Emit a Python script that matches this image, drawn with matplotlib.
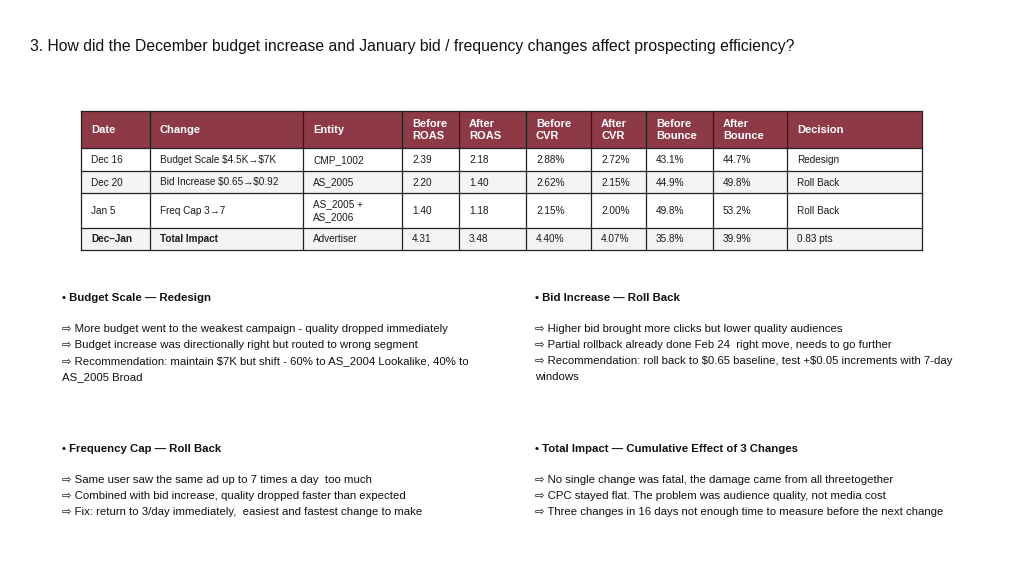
import matplotlib as mpl

mpl.use("Agg")

import matplotlib.pyplot as plt
from matplotlib.patches import Rectangle

plt.rcParams["font.family"] = ["Liberation Sans", "DejaVu Sans"]

TITLE = ("3. How did the December budget increase and January bid / frequency "
         "changes affect prospecting efficiency?")

HEADERS = ["Date", "Change", "Entity", "Before\nROAS", "After\nROAS", "Before\nCVR",
           "After\nCVR", "Before\nBounce", "After\nBounce", "Decision"]
DATES = ["Dec 16", "Dec 20", "Jan 5", "Dec\u2013Jan"]
CHANGES = ["Budget Scale $4.5K\u2192$7K", "Bid Increase $0.65\u2192$0.92",
           "Freq Cap 3\u21927", "Total Impact"]
ENTITIES = ["CMP_1002", "AS_2005", "AS_2005 +\nAS_2006", "Advertiser"]
BEFORE_ROAS = ["2.39", "2.20", "1.40", "4.31"]
AFTER_ROAS = ["2.18", "1.40", "1.18", "3.48"]
BEFORE_CVR = ["2.88%", "2.62%", "2.15%", "4.40%"]
AFTER_CVR = ["2.72%", "2.15%", "2.00%", "4.07%"]
BEFORE_BOUNCE = ["43.1%", "44.9%", "49.8%", "35.8%"]
AFTER_BOUNCE = ["44.7%", "49.8%", "53.2%", "39.9%"]
DECISIONS = ["Redesign", "Roll Back", "Roll Back", "0.83 pts"]

SECTIONS = [
    ("\u2022 Budget Scale \u2014 Redesign", [
        "More budget went to the weakest campaign - quality dropped immediately",
        "Budget increase was directionally right but routed to wrong segment",
        "Recommendation: maintain $7K but shift - 60% to AS_2004 Lookalike, 40% to\nAS_2005 Broad",
    ]),
    ("\u2022 Bid Increase \u2014 Roll Back", [
        "Higher bid brought more clicks but lower quality audiences",
        "Partial rollback already done Feb 24  right move, needs to go further",
        "Recommendation: roll back to $0.65 baseline, test +$0.05 increments with 7-day\nwindows",
    ]),
    ("\u2022 Frequency Cap \u2014 Roll Back", [
        "Same user saw the same ad up to 7 times a day  too much",
        "Combined with bid increase, quality dropped faster than expected",
        "Fix: return to 3/day immediately,  easiest and fastest change to make",
    ]),
    ("\u2022 Total Impact \u2014 Cumulative Effect of 3 Changes", [
        "No single change was fatal, the damage came from all threetogether",
        "CPC stayed flat. The problem was audience quality, not media cost",
        "Three changes in 16 days not enough time to measure before the next change",
    ]),
]

# layout in pixel units of the 1024x564 slide
COL_EDGES = [81, 150, 303, 402, 459, 526, 591, 646, 713, 787, 922]
ROW_EDGES = [111, 148, 171, 193, 228, 250]
HEADER_COLOR = "#8e3a46"
BORDER = "#222222"
SECTION_POS = [(62, 298), (535, 298), (62, 449), (535, 449)]

fig = plt.figure(figsize=(10.24, 5.64), dpi=100)
ax = fig.add_axes([0, 0, 1, 1])
ax.set_xlim(0, 1024)
ax.set_ylim(564, 0)
ax.axis("off")

ax.text(30, 46, TITLE, fontsize=11.3, va="center", ha="left", color="#111111",
        parse_math=False)

columns = [DATES, CHANGES, ENTITIES, BEFORE_ROAS, AFTER_ROAS, BEFORE_CVR,
           AFTER_CVR, BEFORE_BOUNCE, AFTER_BOUNCE, DECISIONS]
n_rows = len(DATES)

# header
ax.add_patch(Rectangle((COL_EDGES[0], ROW_EDGES[0]), COL_EDGES[-1] - COL_EDGES[0],
                       ROW_EDGES[1] - ROW_EDGES[0], facecolor=HEADER_COLOR,
                       edgecolor="none", zorder=1))
for c, label in enumerate(HEADERS):
    ax.text(COL_EDGES[c] + 10, (ROW_EDGES[0] + ROW_EDGES[1]) / 2 + 0.5, label,
            fontsize=8.0, fontweight="bold", color="white", va="center", ha="left",
            linespacing=1.3, zorder=3)

# body
for r in range(n_rows):
    y0, y1 = ROW_EDGES[r + 1], ROW_EDGES[r + 2]
    face = "#f4f4f4" if r % 2 == 1 else "white"
    ax.add_patch(Rectangle((COL_EDGES[0], y0), COL_EDGES[-1] - COL_EDGES[0], y1 - y0,
                           facecolor=face, edgecolor="none", zorder=1))
    bold = r == n_rows - 1
    for c, col in enumerate(columns):
        weight = "bold" if bold and c < 2 else "normal"
        ax.text(COL_EDGES[c] + 10, (y0 + y1) / 2 + 0.5, col[r], fontsize=7.2,
                fontweight=weight, color="#1a1a1a", va="center", ha="left",
                linespacing=1.35, zorder=3, parse_math=False)

# grid lines
for x in COL_EDGES:
    ax.plot([x, x], [ROW_EDGES[0], ROW_EDGES[-1]], color=BORDER, lw=0.9, zorder=2)
for y in ROW_EDGES:
    ax.plot([COL_EDGES[0], COL_EDGES[-1]], [y, y], color=BORDER, lw=0.9, zorder=2)

# text sections
for (title, lines), (x, y) in zip(SECTIONS, SECTION_POS):
    ax.text(x, y, title, fontsize=8.2, fontweight="bold", color="#111111",
            va="center", ha="left", parse_math=False)
    yy = y + 31
    for line in lines:
        parts = line.split("\n")
        ax.text(x, yy, "\u21e8 " + parts[0], fontsize=8.2, color="#111111",
                va="center", ha="left", parse_math=False)
        yy += 16
        for extra in parts[1:]:
            ax.text(x, yy, extra, fontsize=8.2, color="#111111", va="center",
                    ha="left", parse_math=False)
            yy += 16

fig.savefig("out.png", dpi=100, facecolor="white")
